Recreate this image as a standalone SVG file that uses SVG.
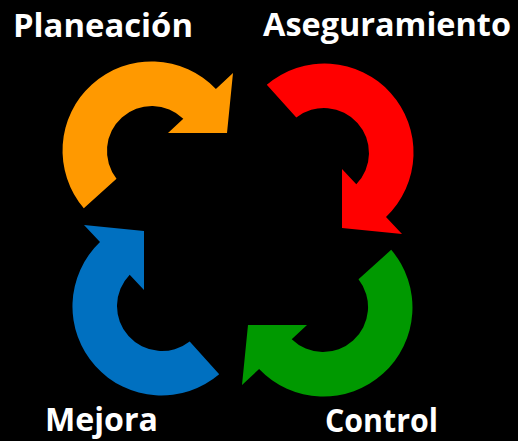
<svg xmlns="http://www.w3.org/2000/svg" xmlns:xlink="http://www.w3.org/1999/xlink" width="523" height="444" viewBox="0 0 523 444">
  <style>
    .lbl { font-family: "Open Sans", "Liberation Sans", sans-serif; font-weight: bold; font-size: 32px; fill: #ffffff; }
  </style>
  <defs>
    <path id="carrow" d="M -68.2,57.2 A 89 89 0 0 1 63.9,-62 L 81,-78 L 75,-18 L 16,-18 L 31.3,-32.3 A 45 45 0 0 0 -35.5,27.7 Z"/>
  </defs>
  <rect x="0" y="0" width="523" height="444" fill="#ffffff"/>
  <rect x="0" y="0" width="518" height="441" fill="#000000"/>
  <g id="connectors">
    <use xlink:href="#carrow" href="#carrow" transform="translate(152,151)" fill="#ff9900"/>
    <use xlink:href="#carrow" href="#carrow" transform="translate(324,153) rotate(90)" fill="#ff0000"/>
    <use xlink:href="#carrow" href="#carrow" transform="translate(323,307) rotate(180)" fill="#009900"/>
    <use xlink:href="#carrow" href="#carrow" transform="translate(162,306) rotate(-90)" fill="#0070c0"/>
  </g>
  <g id="planeacion"><text class="lbl" x="13" y="37" textLength="180" lengthAdjust="spacingAndGlyphs">Planeación</text></g>
  <g id="aseguramiento"><text class="lbl" x="263" y="36" textLength="248" lengthAdjust="spacingAndGlyphs">Aseguramiento</text></g>
  <g id="mejora"><text class="lbl" x="45" y="431" textLength="113" lengthAdjust="spacingAndGlyphs">Mejora</text></g>
  <g id="control"><text class="lbl" x="325" y="432" textLength="113" lengthAdjust="spacingAndGlyphs">Control</text></g>
</svg>
